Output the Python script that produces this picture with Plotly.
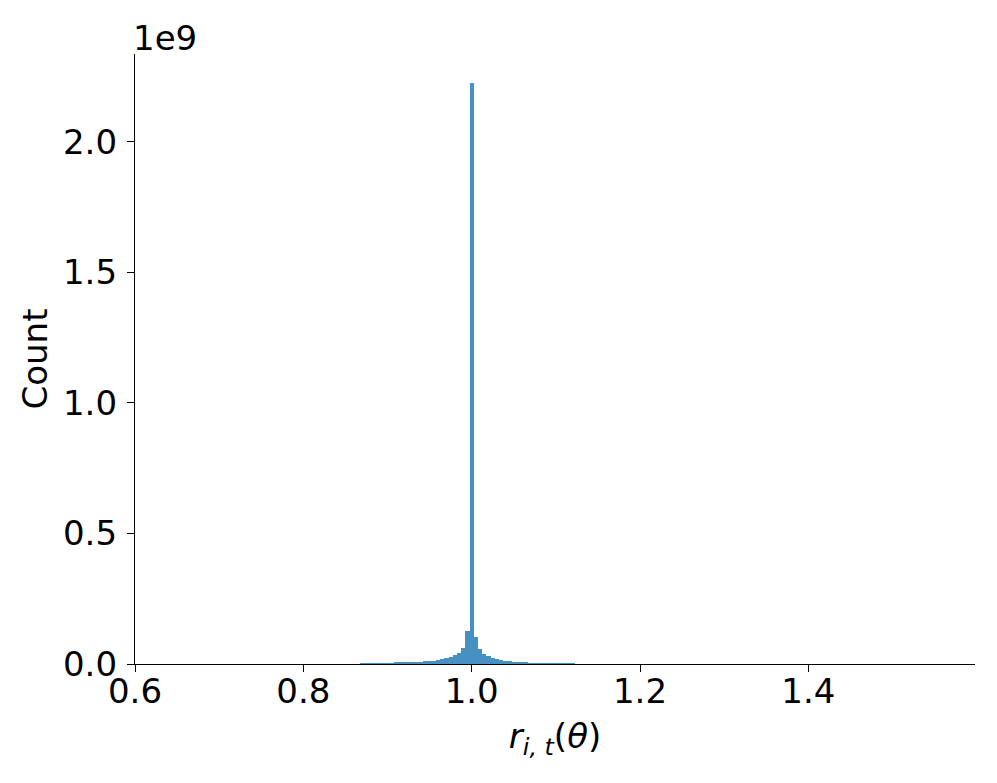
import plotly.graph_objects as go

# Histogram bin centers (width 0.005) and counts in millions
bin_centers = [
    0.840, 0.845, 0.850, 0.855, 0.860, 0.865, 0.870, 0.875, 0.880, 0.885,
    0.890, 0.895, 0.900, 0.905, 0.910, 0.915, 0.920, 0.925, 0.930, 0.935,
    0.940, 0.945, 0.950, 0.955, 0.960, 0.965, 0.970, 0.975, 0.980, 0.985,
    0.990, 0.995, 1.000, 1.005, 1.010, 1.015, 1.020, 1.025, 1.030, 1.035,
    1.040, 1.045, 1.050, 1.055, 1.060, 1.065, 1.070, 1.075, 1.080, 1.085,
    1.090, 1.095, 1.100, 1.105, 1.110, 1.115, 1.120, 1.125, 1.130, 1.135,
    1.140, 1.145, 1.150, 1.155, 1.160,
]
counts_millions = [
    0.3, 0.5, 0.7, 1.0, 1.3, 1.7, 2.1, 2.6, 3.0, 3.5,
    4.0, 4.5, 5.0, 5.5, 6.0, 6.5, 7.0, 7.5, 8.0, 8.5,
    9.0, 10, 11, 12, 14, 18, 22, 27, 33, 41,
    62, 125, 2226, 105, 57, 39, 31, 24, 19, 15,
    12, 10, 9, 8, 7, 6.3, 5.7, 5.2, 4.8, 4.4,
    4.0, 3.6, 3.3, 3.0, 2.7, 2.4, 2.1, 1.8, 1.5, 1.2,
    0.9, 0.7, 0.5, 0.3, 0.2,
]
bin_width = 0.005

x_tick_vals = [0.6, 0.8, 1.0, 1.2, 1.4]
x_tick_text = ["0.6", "0.8", "1.0", "1.2", "1.4"]
y_tick_vals = [0.0, 0.5e9, 1.0e9, 1.5e9, 2.0e9]
y_tick_text = ["0.0", "0.5", "1.0", "1.5", "2.0"]

counts = [c * 1e6 for c in counts_millions]

FONT = "DejaVu Sans"
FS = 34

fig = go.Figure()
fig.add_trace(go.Bar(
    x=bin_centers,
    y=counts,
    width=[bin_width] * len(bin_centers),
    marker=dict(color="rgba(31,119,180,0.82)", line=dict(width=0)),
    showlegend=False,
))

fig.update_layout(
    width=989, height=775,
    margin=dict(l=127, r=22, t=46, b=119),
    paper_bgcolor="white", plot_bgcolor="white",
    bargap=0,
    font=dict(family=FONT, size=FS, color="black"),
    xaxis=dict(
        range=[0.6, 1.598],
        tickvals=x_tick_vals, ticktext=x_tick_text,
        showgrid=False, zeroline=False,
        showline=True, linecolor="black", linewidth=1.3,
        ticks="outside", ticklen=7, tickwidth=1.3, tickcolor="black",
        ticklabelstandoff=-10,
        title=dict(text="<i>r</i><sub><i>i, t</i></sub>(<i>θ</i>)", standoff=14,
                   font=dict(family=FONT, size=FS)),
    ),
    yaxis=dict(
        range=[0, 2.337e9],
        tickvals=y_tick_vals, ticktext=y_tick_text,
        showgrid=False, zeroline=False,
        showline=True, linecolor="black", linewidth=1.3,
        ticks="outside", ticklen=7, tickwidth=1.3, tickcolor="black",
        ticklabelstandoff=3,
        title=dict(text="Count", standoff=5, font=dict(family=FONT, size=FS)),
    ),
    annotations=[dict(
        text="1e9", x=0, y=1, xref="paper", yref="paper",
        xanchor="left", yanchor="bottom", showarrow=False,
        font=dict(family=FONT, size=FS), yshift=-6, xshift=-4,
    )],
)

fig.write_html("out.html")
